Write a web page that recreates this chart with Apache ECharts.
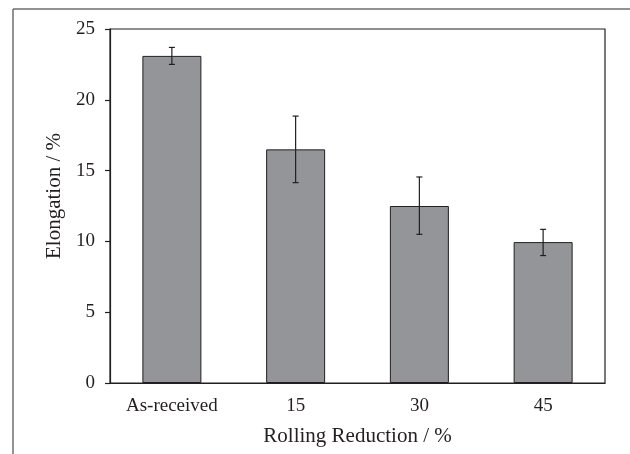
<!DOCTYPE html>
<html>
<head>
<meta charset="utf-8">
<script src="https://cdn.jsdelivr.net/npm/echarts@6/dist/echarts.min.js"></script>
<style>html,body{margin:0;padding:0;background:#fff;}#c{width:630px;height:454px;}</style>
</head>
<body>
<div id="c"></div>
<script>
const categories = ['As-received', '15', '30', '45'];
const elongation = [23.1, 16.5, 12.5, 9.95];
const errorLow = [22.5, 14.15, 10.5, 9.0];
const errorHigh = [23.7, 18.85, 14.55, 10.85];
const yTicks = [0, 5, 10, 15, 20, 25];

const chart = echarts.init(document.getElementById('c'), null, {renderer: 'canvas'});
const font = '"Liberation Serif", "Times New Roman", serif';
const errData = categories.map((c, i) => [i, errorLow[i], errorHigh[i]]);

chart.setOption({
  animation: false,
  backgroundColor: '#fff',
  grid: {left: 110, top: 29, right: 25, bottom: 71, show: true, borderColor: '#231f20', borderWidth: 1.2, backgroundColor: 'transparent'},
  xAxis: {
    type: 'category',
    data: categories,
    axisLine: {show: true, lineStyle: {color: '#231f20', width: 1.2}},
    axisTick: {show: false},
    axisLabel: {color: '#231f20', fontFamily: font, fontSize: 19, margin: 14},
    name: 'Rolling Reduction / %',
    nameLocation: 'middle',
    nameGap: 43,
    nameTextStyle: {color: '#231f20', fontFamily: font, fontSize: 21}
  },
  yAxis: {
    type: 'value',
    min: yTicks[0],
    max: yTicks[yTicks.length - 1],
    interval: 5,
    axisLine: {show: true, lineStyle: {color: '#231f20', width: 1.2}},
    axisTick: {show: true, inside: false, length: 5, lineStyle: {color: '#231f20', width: 1.2}},
    splitLine: {show: false},
    axisLabel: {color: '#231f20', fontFamily: font, fontSize: 19, margin: 15}
  },
  graphic: [
    {type: 'line', shape: {x1: 13, y1: 9, x2: 630, y2: 9}, style: {stroke: '#6d6e71', lineWidth: 1.5}},
    {type: 'line', shape: {x1: 13, y1: 9, x2: 13, y2: 454}, style: {stroke: '#6d6e71', lineWidth: 1.5}},
    {type: 'text', x: 54, y: 196, rotation: Math.PI / 2, style: {text: 'Elongation / %', fill: '#231f20', font: '21px ' + font, textAlign: 'center', textVerticalAlign: 'middle'}}
  ],
  series: [
    {
      type: 'bar',
      data: elongation,
      barWidth: 59,
      itemStyle: {color: '#939598', borderColor: '#231f20', borderWidth: 1}
    },
    {
      type: 'custom',
      data: errData,
      z: 10,
      renderItem: function (params, api) {
        const x = api.value(0);
        const lo = api.coord([x, api.value(1)]);
        const hi = api.coord([x, api.value(2)]);
        const w = 3;
        const st = {stroke: '#231f20', lineWidth: 1.2};
        return {
          type: 'group',
          children: [
            {type: 'line', shape: {x1: lo[0], y1: lo[1], x2: hi[0], y2: hi[1]}, style: st},
            {type: 'line', shape: {x1: lo[0] - w, y1: lo[1], x2: lo[0] + w, y2: lo[1]}, style: st},
            {type: 'line', shape: {x1: hi[0] - w, y1: hi[1], x2: hi[0] + w, y2: hi[1]}, style: st}
          ]
        };
      }
    }
  ]
});
</script>
</body>
</html>
